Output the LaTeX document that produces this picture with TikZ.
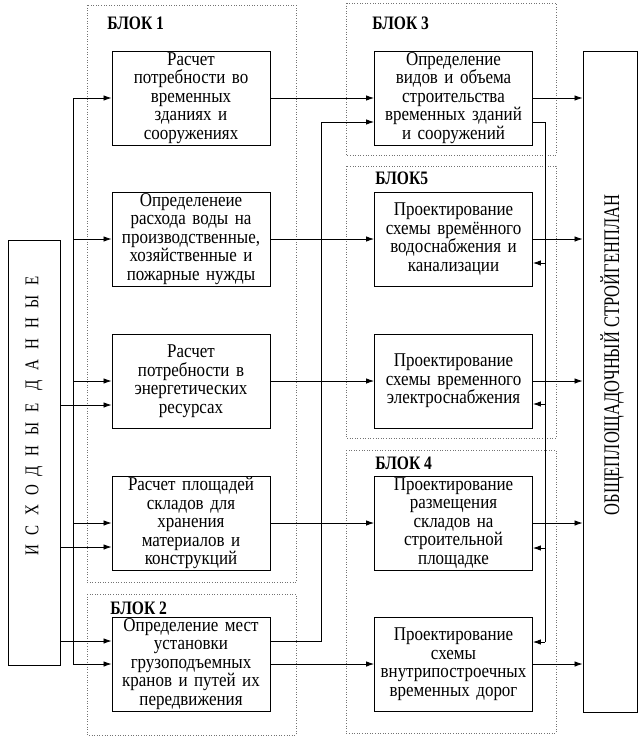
\documentclass[tikz,border=0pt]{standalone}
\usepackage{fontspec}
\setmainfont{Liberation Serif}
\newfontfamily\boxfont[FakeStretch=0.87]{Liberation Serif}
\newfontfamily\labelfont[FakeStretch=0.82]{Liberation Serif}
\usetikzlibrary{arrows.meta, calc}

\begin{document}
\begin{tikzpicture} [x=1pt, y=-1pt, align=center, >={Latex[length=8pt, width=5.5pt]}, line width=0.8pt,
  box/.style={rectangle, draw, line width=0.9pt, text width=154pt, inner xsep=2pt, inner ysep=1pt,
              minimum height=94pt, font=\boxfont\fontsize{19.5}{18.5}\selectfont},
  bar/.style={rectangle, draw, line width=0.9pt, inner sep=0pt},
  frame/.style={draw=black!55, dotted, line width=0.6pt},
  blocklabel/.style={anchor=west, inner sep=0pt, font=\labelfont\fontsize{19}{20}\selectfont\bfseries}]
\useasboundingbox (0,0) rectangle (644,742);

% dotted blocks
\draw[frame] (87,5) rectangle (296,582);
\draw[frame] (87,594) rectangle (296,735);
\draw[frame] (346,3) rectangle (556,155);
\draw[frame] (346,166) rectangle (556,438);
\draw[frame] (346,450) rectangle (556,733);

\path (107,23) node[blocklabel] (l1) {БЛОК 1}
      (110,608) node[blocklabel] (l2) {БЛОК 2}
      (372,23) node[blocklabel] (l3) {БЛОК 3}
      (375,178) node[blocklabel] (l5) {БЛОК5}
      (375,463) node[blocklabel] (l4) {БЛОК 4};

\path (34,452.5) node[bar, minimum width=52pt, minimum height=425pt] (src) {}
      (610,381.5) node[bar, minimum width=54pt, minimum height=661pt] (plan) {}
      (34,416) node[rotate=90, font=\fontsize{15}{16}\selectfont\addfontfeature{LetterSpace=65}] (srctext)
           {\scalebox{1}[1.3]{ИСХОДНЫЕ ДАННЫЕ}}
      (612,355) node[rotate=90, font=\fontsize{16.5}{18}\selectfont] (plantext)
           {\scalebox{1}[1.35]{ОБЩЕПЛОЩАДОЧНЫЙ СТРОЙГЕНПЛАН}};

\path (191,98) node[box] (b1) {Расчет\\ потребности во\\ временных\\ зданиях и\\ сооружениях}
      (191,239) node[box] (b2) {Определенеие\\ расхода воды на\\ производственные,\\ хозяйственные и\\ пожарные нужды}
      (191,381) node[box] (b3) {Расчет\\ потребности в\\ энергетических\\ ресурсах}
      (191,523) node[box] (b4) {Расчет площадей\\ складов для\\ хранения\\ материалов и\\ конструкций}
      (191,664) node[box] (b5) {Определение мест\\ установки\\ грузоподъемных\\ кранов и путей их\\ передвижения}

      (453.5,98) node[box] (r1) {Определение\\ видов и объема\\ строительства\\ временных зданий\\ и сооружений}
      (453.5,239) node[box] (r2) {Проектирование\\ схемы времённого\\ водоснабжения и\\ канализации}
      (453.5,381) node[box] (r3) {Проектирование\\ схемы временного\\ электроснабжения\\[8pt]}
      (453.5,523) node[box] (r4) {Проектирование\\ размещения\\ складов на\\ строительной\\ площадке}
      (453.5,664) node[box] (r5) {Проектирование\\ схемы\\ внутрипостроечных\\ временных дорог};

% input bus
\coordinate (bus) at (73,0);
\draw (bus |- b1.west) -- (bus |- b5.west);
\draw[->] (bus |- b1.west) -- (b1.west);
\draw[->] (bus |- b2.west) -- (b2.west);
\draw[->] (bus |- b3.west) -- (b3.west);
\draw[->] (bus |- b4.west) -- (b4.west);
\draw[->] (bus |- b5.west) -- (b5.west);

% straight from the source
\coordinate (b3in) at ([yshift=-24pt]b3.west);
\coordinate (b4in) at ([yshift=-24pt]b4.west);
\coordinate (b5in) at ([yshift=23pt]b5.west);
\draw[->] (b3in -| src.east) -- (b3in);
\draw[->] (b4in -| src.east) -- (b4in);
\draw[->] (b5in -| src.east) -- (b5in);

% left column to right column
\draw[->] (b1.east) -- (r1.west);
\draw[->] (b2.east) -- (r2.west);
\draw[->] (b3.east) -- (r3.west);
\draw[->] (b4.east) -- (r4.west);
\draw[->] (b5.east) -- (r5.west);
\coordinate (b5out) at ([yshift=23pt]b5.east);
\coordinate (r1in) at ([yshift=-24pt]r1.west);
\draw[->] (b5out) -- ++(51,0) |- (r1in);

% feedback from block 3
\coordinate (r1out) at ([yshift=-24pt]r1.east);
\coordinate (r2in) at ([yshift=-24pt]r2.east);
\coordinate (r3in) at ([yshift=-23pt]r3.east);
\coordinate (r4in) at ([yshift=-25pt]r4.east);
\coordinate (r5in) at ([yshift=22pt]r5.east);
\coordinate (fb) at (545,0);
\draw (r1out) -| (fb |- r5in);
\draw[->] (fb |- r2in) -- (r2in);
\draw[->] (fb |- r3in) -- (r3in);
\draw[->] (fb |- r4in) -- (r4in);
\draw[->] (fb |- r5in) -- (r5in);

% to the general plan
\draw[->] (r1.east) -- (r1.east -| plan.west);
\draw[->] (r2.east) -- (r2.east -| plan.west);
\draw[->] (r3.east) -- (r3.east -| plan.west);
\draw[->] (r4.east) -- (r4.east -| plan.west);
\draw[->] (r5.east) -- (r5.east -| plan.west);

\end{tikzpicture}
\end{document}
